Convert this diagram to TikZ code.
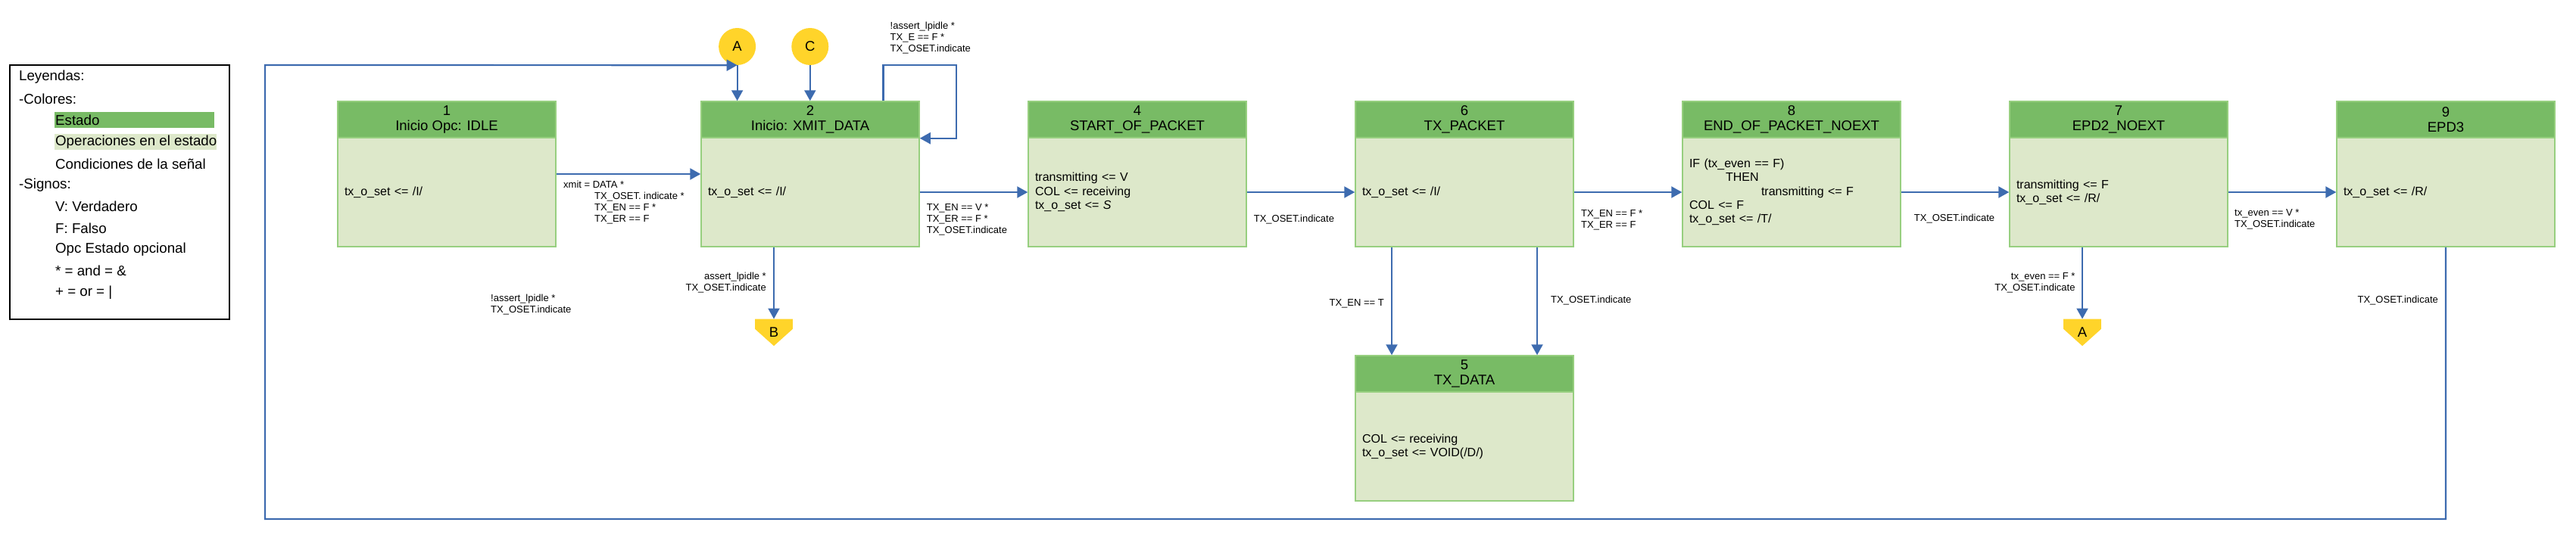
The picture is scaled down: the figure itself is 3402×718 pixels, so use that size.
\documentclass[tikz,border=0pt]{standalone}
\usepackage{fontspec}
\setmainfont{Liberation Sans}
\usetikzlibrary{arrows.meta,backgrounds,calc}
\definecolor{hdrgreen}{HTML}{78BB65}
\definecolor{bodygreen}{HTML}{DDE8CA}
\definecolor{edgegreen}{HTML}{97CF7F}
\definecolor{flowblue}{HTML}{3D6BAF}
\definecolor{connyellow}{HTML}{FFD42A}
\begin{document}
\begin{tikzpicture}[x=1pt,y=-1pt,
  hdr/.style={draw=edgegreen, line width=1.5pt, fill=hdrgreen, minimum width=288pt, minimum height=48pt, inner sep=0pt, align=center, font=\fontsize{18.5}{20}\selectfont},
  bodybox/.style={draw=edgegreen, line width=1.5pt, fill=bodygreen, minimum width=288pt, minimum height=144pt, text width=270pt, inner xsep=9pt, inner ysep=0pt, align=left, font=\fontsize{16}{18.3}\selectfont},
  flow/.style={draw=flowblue, line width=2.2pt, -{Triangle[length=14pt,width=15pt]}},
  flowline/.style={draw=flowblue, line width=2.2pt},
  conncirc/.style={circle, fill=connyellow, minimum size=49pt, inner sep=0pt, font=\fontsize{18.5}{20}\selectfont},
  offpage/.style={minimum width=49.4pt, minimum height=35.3pt, inner sep=0pt, font=\fontsize{18.5}{20}\selectfont},
  lbl/.style={inner sep=0pt, font=\fontsize{13}{15}\selectfont, align=left},
  lblr/.style={inner sep=0pt, font=\fontsize{13}{15}\selectfont, align=right},
  legtxt/.style={anchor=west, inner sep=0pt, font=\fontsize{18.7}{20}\selectfont}
]
\useasboundingbox (0,0) rectangle (3402,718);

% ---------- legend ----------
\node[draw=black, line width=1.6pt, minimum width=290pt, minimum height=336pt, inner sep=0pt] (legend) at (158,254) {};
\fill[hdrgreen] (72,148) rectangle (283,169);
\fill[bodygreen] (72,177) rectangle (286,198);
\node[legtxt] (lg1) at (25,102) {Leyendas:};
\node[legtxt] (lg2) at (25,131) {-Colores:};
\node[legtxt] (lg3) at (73,159) {Estado};
\node[legtxt] (lg4) at (73,188) {Operaciones en el estado};
\node[legtxt] (lg5) at (73,217) {Condiciones de la señal};
\node[legtxt] (lg6) at (25,245) {-Signos:};
\node[legtxt] (lg7) at (73,273) {V: Verdadero};
\node[legtxt] (lg8) at (73,302) {F: Falso};
\node[legtxt] (lg9) at (73,330) {Opc Estado opcional};
\node[legtxt] (lg10) at (73,358) {* = and = \&};
\node[legtxt] (lg11) at (73,387) {+ = or = |};

% ---------- states ----------
\node[hdr] (h1) at (590,158) {1\\Inicio Opc: IDLE};
\node[bodybox] (b1) at (590,254) {tx\_o\_set <= /I/};

\node[hdr] (h2) at (1070,158) {2\\Inicio: XMIT\_DATA};
\node[bodybox] (b2) at (1070,254) {tx\_o\_set <= /I/};

\node[hdr] (h4) at (1502,158) {4\\START\_OF\_PACKET};
\node[bodybox] (b4) at (1502,254) {transmitting <= V\\COL <= receiving\\tx\_o\_set <= \textit{S}};

\node[hdr] (h6) at (1934,158) {6\\TX\_PACKET};
\node[bodybox] (b6) at (1934,254) {tx\_o\_set <= /I/};

\node[hdr] (h8) at (2366,158) {8\\END\_OF\_PACKET\_NOEXT};
\node[bodybox] (b8) at (2366,254) {IF (tx\_even == F)\\\hspace*{48pt}THEN\\\hspace*{95pt}transmitting <= F\\COL <= F\\tx\_o\_set <= /T/};

\node[hdr] (h7) at (2798,158) {7\\EPD2\_NOEXT};
\node[bodybox] (b7) at (2798,254) {transmitting <= F\\tx\_o\_set <= /R/};

\node[hdr] (h9) at (3230,158) {9\\EPD3};
\node[bodybox] (b9) at (3230,254) {tx\_o\_set <= /R/};

\node[hdr] (h5) at (1934,494) {5\\TX\_DATA};
\node[bodybox] (b5) at (1934,590) {COL <= receiving\\tx\_o\_set <= VOID(/D/)};

% ---------- connectors ----------
\node[conncirc] (A) at (973.6,61.5) {A};
\node[conncirc] (C) at (1069.8,61.5) {C};
\node[offpage] (B) at (1022,439.35) {B};
\node[offpage] (A2) at (2750,439.35) {A};
\begin{scope}[on background layer]
  \fill[connyellow] (B.north west) -- (B.north east) -- ([yshift=-13.3pt]B.north east) -- (B.south) -- ([yshift=-13.3pt]B.north west) -- cycle;
  \fill[connyellow] (A2.north west) -- (A2.north east) -- ([yshift=-13.3pt]A2.north east) -- (A2.south) -- ([yshift=-13.3pt]A2.north west) -- cycle;
\end{scope}

% ---------- transitions ----------
\draw[flow] ([yshift=24pt]b1.east) -- ([yshift=24pt]b1.east -| b2.west);
\draw[flow] (b2.east) -- (b4.west);
\draw[flow] (b4.east) -- (b6.west);
\draw[flow] (b6.east) -- (b8.west);
\draw[flow] (b8.east) -- (b7.west);
\draw[flow] (b7.east) -- (b9.west);
\draw[flow] (A.south) -- (A.south |- h2.north);
\draw[flow] (C.south) -- (C.south |- h2.north);
\coordinate (selfTL) at (1166.4,86);
\coordinate (selfTR) at (1262.6,86);
\draw[flow] (selfTL |- h2.north) -- (selfTL) -- (selfTR) |- (h2.south east);
\draw[flow] (b2.south -| B.north) -- (B.north);
\draw[flow] ([xshift=-96pt]b6.south) -- ([xshift=-96pt]h5.north);
\draw[flow] ([xshift=96pt]b6.south) -- ([xshift=96pt]h5.north);
\draw[flow] (b7.south -| A2.north) -- (A2.north);
\coordinate (loopBL) at (350,686);
\coordinate (loopTL) at (350,86);
\draw[flow] (b9.south) |- (loopBL) -- (loopTL) -- (A.south);

% ---------- labels ----------
\node[lbl, anchor=west] (l12) at (744,267.5) {xmit = DATA *\\\hspace*{41pt}TX\_OSET. indicate *\\\hspace*{41pt}TX\_EN == F *\\\hspace*{41pt}TX\_ER == F};
\node[lbl, anchor=west] (lself) at (1175.5,50) {!assert\_lpidle *\\TX\_E == F *\\TX\_OSET.indicate};
\node[lbl, anchor=west] (l24) at (1223.6,290) {TX\_EN == V *\\TX\_ER == F *\\TX\_OSET.indicate};
\node[lbl, anchor=west] (l46) at (1655.6,290) {TX\_OSET.indicate};
\node[lbl, anchor=west] (l68) at (2088,290.5) {TX\_EN == F *\\TX\_ER == F};
\node[lbl, anchor=west] (l87) at (2527.7,289) {TX\_OSET.indicate};
\node[lbl, anchor=west] (l79) at (2951,290) {tx\_even == V *\\TX\_OSET.indicate};
\node[lblr, anchor=east] (l2B) at (1012,374) {assert\_lpidle *\\TX\_OSET.indicate};
\node[lblr, anchor=east] (l7A) at (2740.7,374) {tx\_even == F *\\TX\_OSET.indicate};
\node[lbl, anchor=east] (l65a) at (1828,401) {TX\_EN == T};
\node[lbl, anchor=west] (l65b) at (2048,397) {TX\_OSET.indicate};
\node[lbl, anchor=east] (l9loop) at (3220,397) {TX\_OSET.indicate};
\node[lbl, anchor=west] (lfree) at (648,402.5) {!assert\_lpidle *\\TX\_OSET.indicate};
\end{tikzpicture}
\end{document}
